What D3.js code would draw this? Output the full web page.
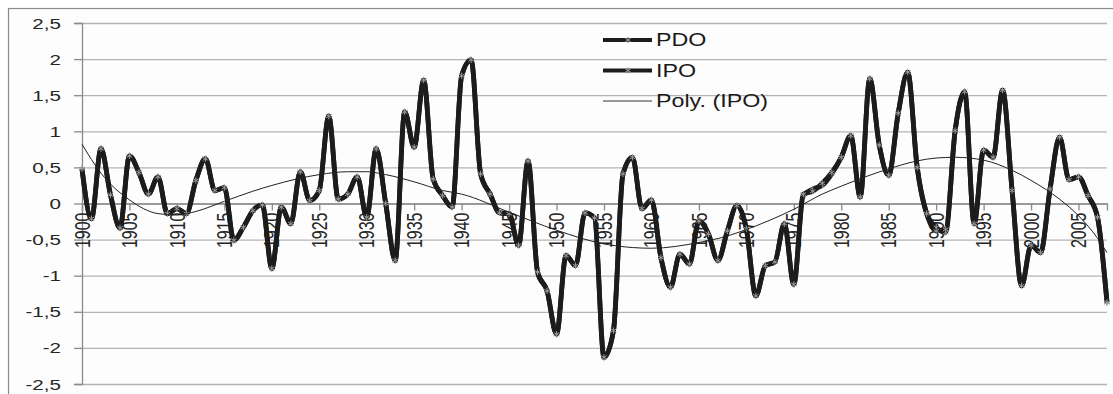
<!DOCTYPE html>
<html>
<head>
<meta charset="utf-8">
<script src="https://cdn.jsdelivr.net/npm/d3@7"></script>
<style>
  html, body { margin: 0; padding: 0; background: #fff; }
  svg { display: block; font-family: "Liberation Sans", Arial, sans-serif; }
</style>
</head>
<body>
<div id="chart"></div>
<script>
// years 1900..2008, one value per year
const years = d3.range(1900, 2009);

const pdo = [
  0.48, -0.21, 0.76, 0.12, -0.34, 0.66, 0.43, 0.13, 0.37, -0.14,
  -0.07, -0.14, 0.32, 0.62, 0.18, 0.22, -0.51, -0.33, -0.10, -0.02,
  -0.90, -0.05, -0.28, 0.44, 0.04, 0.18, 1.21, 0.06, 0.13, 0.37,
  -0.19, 0.76, 0.00, -0.79, 1.27, 0.78, 1.71, 0.34, 0.11, -0.05,
  1.77, 1.99, 0.41, 0.13, -0.13, -0.14, -0.58, 0.59, -0.95, -1.21,
  -1.81, -0.72, -0.86, -0.13, -0.20, -2.13, -1.76, 0.41, 0.64, -0.07,
  0.05, -0.75, -1.16, -0.70, -0.84, -0.24, -0.42, -0.79, -0.38, -0.03,
  -0.35, -1.28, -0.86, -0.81, -0.28, -1.12, 0.11, 0.20, 0.25, 0.41,
  0.64, 0.94, 0.09, 1.73, 0.81, 0.39, 1.25, 1.82, 0.50, -0.14,
  -0.33, -0.40, 1.01, 1.55, -0.28, 0.74, 0.64, 1.57, 0.18, -1.14,
  -0.58, -0.68, 0.20, 0.92, 0.33, 0.37, 0.11, -0.19, -1.37
];

const ipo = [
  0.48, -0.21, 0.76, 0.12, -0.34, 0.66, 0.43, 0.13, 0.37, -0.14,
  -0.07, -0.14, 0.32, 0.62, 0.18, 0.22, -0.51, -0.33, -0.10, -0.02,
  -0.90, -0.05, -0.28, 0.44, 0.04, 0.18, 1.21, 0.06, 0.13, 0.37,
  -0.19, 0.76, 0.00, -0.79, 1.27, 0.78, 1.71, 0.34, 0.11, -0.05,
  1.77, 1.99, 0.41, 0.13, -0.13, -0.14, -0.58, 0.59, -0.95, -1.21,
  -1.81, -0.72, -0.86, -0.13, -0.20, -2.13, -1.76, 0.41, 0.64, -0.07,
  0.05, -0.75, -1.16, -0.70, -0.84, -0.24, -0.42, -0.79, -0.38, -0.03,
  -0.35, -1.28, -0.86, -0.81, -0.28, -1.12, 0.13, 0.17, 0.28, 0.43,
  0.64, 0.94, 0.09, 1.73, 0.81, 0.39, 1.25, 1.82, 0.50, -0.14,
  -0.38, -0.36, 1.01, 1.55, -0.28, 0.74, 0.64, 1.57, 0.18, -1.14,
  -0.58, -0.68, 0.20, 0.92, 0.33, 0.37, 0.11, -0.19, -1.37
];

// polynomial trend of IPO
const trendYears = [1900, 1902, 1905, 1908, 1910, 1912, 1915, 1918, 1920, 1925, 1928, 1930, 1932,
  1935, 1938, 1940, 1945, 1950, 1955, 1958, 1960, 1965, 1968, 1970, 1975, 1978, 1980, 1985,
  1988, 1990, 1992, 1995, 1998, 2000, 2003, 2005, 2007, 2008];
const trendValues = [0.82, 0.42, 0.05, -0.14, -0.16, -0.11, 0.03, 0.17, 0.25, 0.40, 0.44, 0.44, 0.40,
  0.30, 0.18, 0.13, -0.12, -0.37, -0.56, -0.61, -0.62, -0.54, -0.45, -0.36, -0.08, 0.13, 0.24, 0.48,
  0.59, 0.63, 0.64, 0.60, 0.46, 0.32, 0.06, -0.17, -0.48, -0.68];

const yTicks = [2.5, 2, 1.5, 1, 0.5, 0, -0.5, -1, -1.5, -2, -2.5];
const xTicks = d3.range(1900, 2009, 5);
const legendNames = ['PDO', 'IPO', 'Poly. (IPO)'];

const W = 1113, H = 394;
const SX = 1.33; // the picture is stretched sideways

const svg = d3.select('#chart').append('svg')
  .attr('width', W).attr('height', H);

svg.append('rect').attr('width', W).attr('height', H).attr('fill', '#fff');

// outer chart border
svg.append('rect')
  .attr('x', 8.5).attr('y', 8.5).attr('width', W + 10).attr('height', H + 10)
  .attr('fill', '#fdfdfd').attr('stroke', '#8a8a8a').attr('stroke-width', 1.2);

const x = d3.scaleLinear().domain([1900, 2008]).range([82, 1107]);
const y = d3.scaleLinear().domain([-2.5, 2.5]).range([384, 23]);

// gridlines
const grid = svg.append('g').attr('transform', 'translate(82,0)')
  .call(d3.axisLeft(y).tickValues(yTicks).tickSize(-(1107 - 82)).tickFormat(''));
grid.select('.domain').remove();
grid.selectAll('.tick line').attr('stroke', '#b4b4b4').attr('stroke-width', 1.3);

// y axis
const yAxis = svg.append('g').attr('transform', 'translate(82,0)')
  .call(d3.axisLeft(y).tickValues(yTicks).tickSize(8).tickPadding(0).tickFormat(() => ''));
yAxis.select('.domain').attr('stroke', '#8a8a8a').attr('stroke-width', 1.3);
yAxis.selectAll('.tick line').attr('stroke', '#8a8a8a').attr('stroke-width', 1.3);
svg.append('g').selectAll('text')
  .data(yTicks)
  .join('text')
  .attr('transform', d => `translate(61,${y(d)}) scale(${SX},1)`)
  .attr('text-anchor', 'end')
  .attr('dy', '0.36em')
  .attr('fill', '#262626')
  .style('font-size', '15.5px')
  .text(d => String(d).replace('.', ','));

// x axis on the zero line
const xAxis = svg.append('g').attr('transform', `translate(0,${y(0)})`)
  .call(d3.axisBottom(x).tickValues(xTicks).tickSize(7).tickFormat(''));
xAxis.select('.domain').attr('stroke', '#8a8a8a').attr('stroke-width', 1.3);
xAxis.selectAll('.tick line').attr('stroke', '#8a8a8a').attr('stroke-width', 1.3);
svg.append('g').selectAll('text')
  .data(xTicks)
  .join('text')
  .attr('transform', d => `translate(${x(d)},${y(0) + 9}) scale(${SX},1) rotate(-90)`)
  .attr('text-anchor', 'end')
  .attr('dy', '0.36em')
  .attr('fill', '#262626')
  .style('font-size', '16px')
  .text(d => d);

// series
const line = d3.line()
  .x((d, i) => x(years[i]))
  .y(d => y(d))
  .curve(d3.curveMonotoneX);

const star = d3.symbol().type(d3.symbolAsterisk).size(28);

function drawSeries(values) {
  const g = svg.append('g');
  g.append('path')
    .attr('d', line(values))
    .attr('fill', 'none')
    .attr('stroke', '#1c1c1c')
    .attr('stroke-width', 4.8)
    .attr('stroke-linejoin', 'round');
  g.selectAll('path.m')
    .data(values)
    .join('path')
    .attr('class', 'm')
    .attr('transform', (d, i) => `translate(${x(years[i])},${y(d)})`)
    .attr('d', star)
    .attr('fill', 'none')
    .attr('stroke', '#9a9a9a')
    .attr('stroke-width', 1);
}
drawSeries(pdo);
drawSeries(ipo);

// trend
svg.append('path')
  .attr('d', d3.line()
    .x((d, i) => x(trendYears[i]))
    .y(d => y(d))
    .curve(d3.curveMonotoneX)(trendValues))
  .attr('fill', 'none')
  .attr('stroke', '#222')
  .attr('stroke-width', 1);

// legend
const legend = svg.append('g');
legendNames.forEach((name, i) => {
  const ly = 40 + i * 30.5;
  const thin = i === 2;
  legend.append('line')
    .attr('x1', 603).attr('x2', 652).attr('y1', ly).attr('y2', ly)
    .attr('stroke', thin ? '#333' : '#1c1c1c')
    .attr('stroke-width', thin ? 1 : 4);
  if (!thin) {
    legend.append('path')
      .attr('transform', `translate(628,${ly})`)
      .attr('d', star)
      .attr('fill', 'none')
      .attr('stroke', '#9a9a9a')
      .attr('stroke-width', 1);
  }
  legend.append('text')
    .attr('transform', `translate(656,${ly}) scale(${SX},1)`)
    .attr('dy', '0.36em')
    .attr('fill', '#1a1a1a')
    .style('font-size', '17.5px')
    .text(name);
});
</script>
</body>
</html>
